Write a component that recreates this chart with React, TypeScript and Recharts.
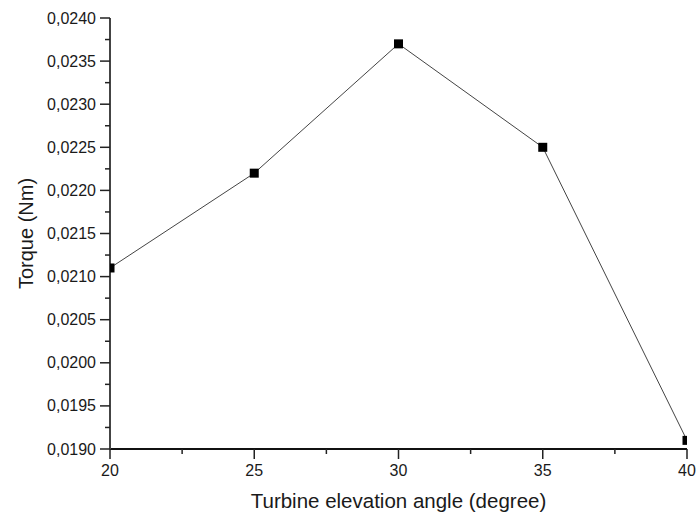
import { FC } from "react";
import { LineChart, Line, XAxis, YAxis, Label } from "recharts";

const angles = [20, 25, 30, 35, 40];
const torque = [0.0211, 0.0222, 0.0237, 0.0225, 0.0191];

const xMajorTicks = [20, 25, 30, 35, 40];
const xMinorTicks = [22.5, 27.5, 32.5, 37.5];
const yMajorTicks = [0.019, 0.0195, 0.02, 0.0205, 0.021, 0.0215, 0.022, 0.0225, 0.023, 0.0235, 0.024];
const yMinorTicks = [0.01925, 0.01975, 0.02025, 0.02075, 0.02125, 0.02175, 0.02225, 0.02275, 0.02325, 0.02375];

const TEXT_COLOR = "#1a1a1a";
const FONT = "'Liberation Sans', Arial, sans-serif";

const data = angles.map((a, i) => ({ angle: a, torque: torque[i] }));

const formatY = (v: number) => v.toFixed(4).replace(".", ",");

const YTick = (props: any) => {
    const { x, y, payload } = props;
    const major = yMajorTicks.includes(payload.value);
    const len = major ? 10 : 5;
    return (
        <g>
            <line x1={x - len} x2={x} y1={y} y2={y} stroke="#222" strokeWidth={1.5} />
            {major && (
                <text x={x - 14} y={y} dy={5.5} textAnchor="end" fontSize={16} fill={TEXT_COLOR}>
                    {formatY(payload.value)}
                </text>
            )}
        </g>
    );
};

const XTick = (props: any) => {
    const { x, y, payload } = props;
    const major = xMajorTicks.includes(payload.value);
    const len = major ? 10 : 5;
    return (
        <g>
            <line x1={x} x2={x} y1={y} y2={y + len} stroke="#222" strokeWidth={1.5} />
            {major && (
                <text x={x} y={y + 27} textAnchor="middle" fontSize={16} fill={TEXT_COLOR}>
                    {payload.value}
                </text>
            )}
        </g>
    );
};

const SquareDot = (props: any) => {
    const { cx, cy, index } = props;
    return <rect key={index} x={cx - 4.5} y={cy - 4.5} width={9} height={9} fill="#000" />;
};

const App: FC = () => {
    return (
        <div style={{ position: "absolute", left: 0, top: 0, fontFamily: FONT }}>
            <LineChart
                width={697}
                height={519}
                data={data}
                margin={{ top: 18, right: 10, left: 0, bottom: 0 }}
                style={{ fontFamily: FONT, background: "#fff", overflow: "visible" }}
            >
                <XAxis
                    dataKey="angle"
                    type="number"
                    domain={[20, 40]}
                    ticks={[...xMajorTicks, ...xMinorTicks].sort((a, b) => a - b)}
                    interval={0}
                    allowDataOverflow
                    height={70}
                    tickSize={0}
                    tickMargin={0}
                    tickLine={false}
                    tick={<XTick />}
                    axisLine={{ stroke: "#111", strokeWidth: 2 }}
                >
                    <Label
                        content={({ viewBox }: any) => (
                            <text
                                x={viewBox.x + viewBox.width / 2}
                                y={508}
                                textAnchor="middle"
                                fontSize={20.5}
                                fill={TEXT_COLOR}
                            >
                                Turbine elevation angle (degree)
                            </text>
                        )}
                    />
                </XAxis>
                <YAxis
                    dataKey="torque"
                    type="number"
                    domain={[0.019, 0.024]}
                    ticks={[...yMajorTicks, ...yMinorTicks].sort((a, b) => a - b)}
                    interval={0}
                    allowDataOverflow
                    width={110}
                    tickSize={0}
                    tickMargin={0}
                    tickLine={false}
                    tick={<YTick />}
                    axisLine={{ stroke: "#444", strokeWidth: 2 }}
                >
                    <Label
                        content={({ viewBox }: any) => {
                            const cy = viewBox.y + viewBox.height / 2;
                            return (
                                <text
                                    x={33}
                                    y={cy}
                                    transform={`rotate(-90, 33, ${cy})`}
                                    textAnchor="middle"
                                    fontSize={20}
                                    fill={TEXT_COLOR}
                                >
                                    Torque (Nm)
                                </text>
                            );
                        }}
                    />
                </YAxis>
                <Line
                    type="linear"
                    dataKey="torque"
                    stroke="#444"
                    strokeWidth={1}
                    dot={<SquareDot />}
                    activeDot={false}
                    isAnimationActive={false}
                />
            </LineChart>
        </div>
    );
};

export default App;
